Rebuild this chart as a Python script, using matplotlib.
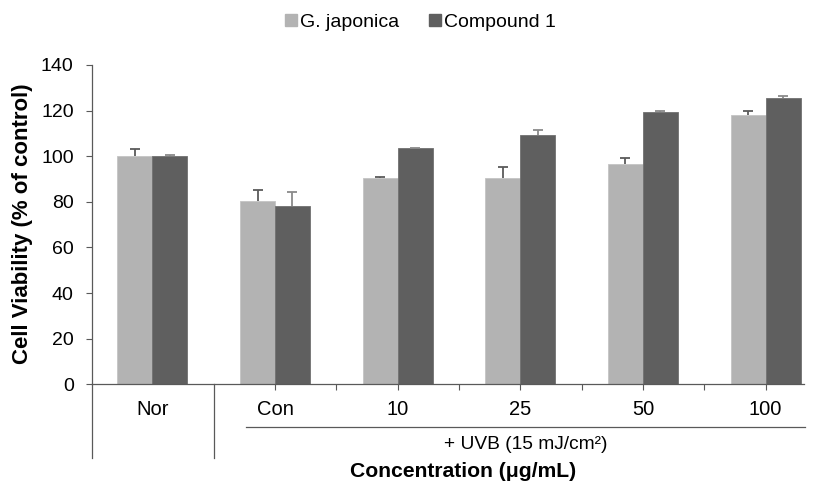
import matplotlib
matplotlib.use("Agg")
import matplotlib.pyplot as plt
from matplotlib.lines import Line2D
import numpy as np

plt.rcParams['font.family'] = ['Liberation Sans', 'DejaVu Sans']

categories = ["Nor", "Con", "10", "25", "50", "100"]
series_names = ["G. japonica", "Compound 1"]
gj_values = [100.0, 80.2, 90.5, 90.5, 96.5, 118.0]
gj_errors = [3.0, 4.8, 0.5, 4.7, 2.5, 2.0]
c1_values = [100.0, 78.3, 103.4, 109.4, 119.2, 125.6]
c1_errors = [0.4, 6.2, 0.4, 2.0, 0.8, 1.0]
group_label = "+ UVB (15 mJ/cm²)"
ylabel = "Cell Viability (% of control)"
xlabel = "Concentration (μg/mL)"

light = "#b3b3b3"
dark = "#5f5f5f"

fig = plt.figure(figsize=(8.14, 4.86), dpi=100)
ax = fig.add_axes([0.1127, 0.2093, 0.8753, 0.657])

x = np.arange(len(categories))
w = 0.285
ax.bar(x - w / 2, gj_values, w, color=light, edgecolor="#c4c4c4", linewidth=0.6, zorder=2)
ax.bar(x + w / 2, c1_values, w, color=dark, edgecolor="#707070", linewidth=0.6, zorder=2)
eb1 = ax.errorbar(x - w / 2, gj_values, yerr=[np.zeros(len(x)), gj_errors], fmt='none',
                  ecolor="#5a5a5a", elinewidth=1.3, capsize=3.6, capthick=1.3, zorder=3)
eb2 = ax.errorbar(x + w / 2, c1_values, yerr=[np.zeros(len(x)), c1_errors], fmt='none',
                  ecolor="#8a8a8a", elinewidth=1.3, capsize=3.6, capthick=1.3, zorder=3)
for eb in (eb1, eb2):
    caps = eb.lines[1]
    if len(caps) >= 2:
        caps[0].set_visible(False)

ax.set_xlim(-0.494, 5.315)
ax.set_ylim(0, 140)
ax.set_yticks(np.arange(0, 141, 20))
ax.tick_params(axis='y', direction='out', length=4, width=0.8, color="#595959",
               labelsize=14, pad=9, labelcolor="#000000")
for s in ["top", "right"]:
    ax.spines[s].set_visible(False)
ax.spines["left"].set_color("#595959")
ax.spines["bottom"].set_color("#595959")
ax.spines["left"].set_linewidth(0.9)
ax.spines["bottom"].set_linewidth(0.9)

# x ticks (small marks) at group centers and boundaries in the UVB section
tick_pos = [1, 1.5, 2, 2.5, 3, 3.5, 4, 4.5, 5]
ax.set_xticks(tick_pos)
ax.set_xticklabels([])
ax.tick_params(axis='x', direction='out', length=4, width=0.8, color="#595959")

trans = ax.get_xaxis_transform()

# category labels
for xi, lab in zip(x, categories):
    ax.text(xi, -0.0805, lab, transform=trans, ha='center',
            va='center', fontsize=14.5, color="#000000")

# vertical divider lines
ax.add_line(Line2D([-0.494, -0.494], [0, -0.231], transform=trans, color="#595959",
                   lw=0.9, clip_on=False))
ax.add_line(Line2D([0.5, 0.5], [0, -0.231], transform=trans, color="#595959",
                   lw=0.9, clip_on=False))
# underline for UVB group
ax.add_line(Line2D([1 - 0.239, 5.325], [-0.1347, -0.1347], transform=trans,
                   color="#595959", lw=0.9, clip_on=False))
ax.text((1 - 0.239 + 5.325) / 2, -0.188, group_label, transform=trans, ha='center',
        va='center', fontsize=13.8, color="#000000")

fig.text(463 / 814, 1 - 471 / 486, xlabel, ha='center', va='center', fontsize=15.2,
         fontweight='bold')
fig.text(23 / 814, 1 - 224 / 486, ylabel, ha='center', va='center', fontsize=16,
         fontweight='bold', rotation=90)

handles = [Line2D([], [], marker='s', linestyle='none', markersize=8.4,
                  markerfacecolor=light, markeredgecolor=light),
           Line2D([], [], marker='s', linestyle='none', markersize=8.4,
                  markerfacecolor=dark, markeredgecolor=dark)]
fig.legend(handles, series_names, loc='center', bbox_to_anchor=(419 / 814, 1 - 21.7 / 486),
           ncol=2, frameon=False, fontsize=14, handletextpad=0.0, columnspacing=1.4,
           handlelength=0.9)

fig.savefig("out.png", dpi=100)
